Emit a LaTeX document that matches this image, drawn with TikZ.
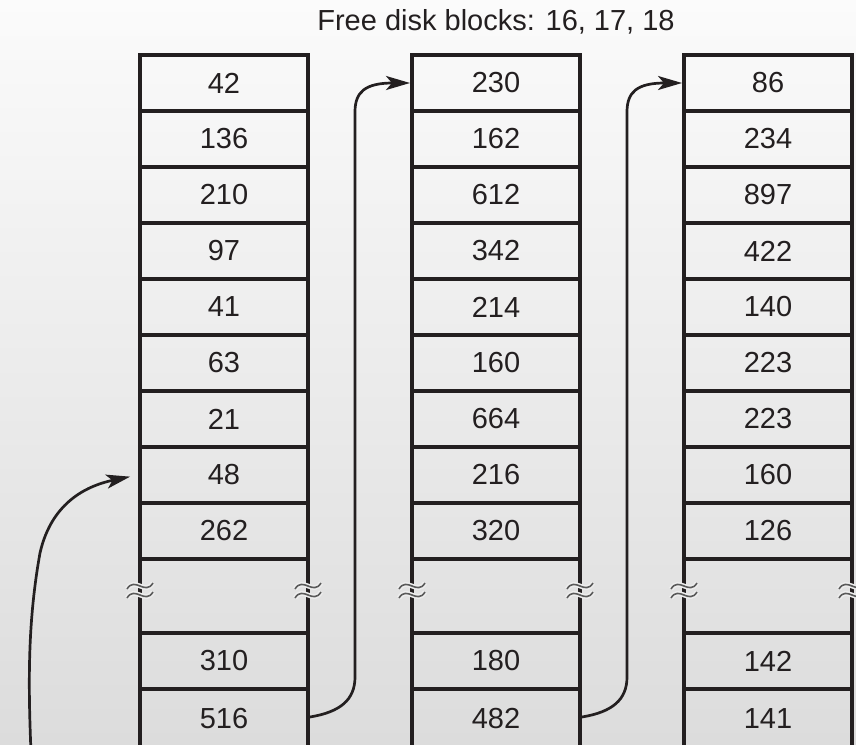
\documentclass[tikz,border=0pt]{standalone}
\usepackage{fontspec}
\setmainfont{Liberation Sans}
\usetikzlibrary{arrows.meta}
\definecolor{ink}{HTML}{231F20}
\definecolor{bgtop}{HTML}{FBFBFB}
\definecolor{bgbot}{HTML}{DCDCDC}
\tikzset{
  cell/.style={draw=ink, line width=2pt, minimum width=84pt, minimum height=28pt,
    inner sep=0pt, text=ink, font=\fontsize{14.5}{17}\selectfont},
  gapcell/.style={cell, minimum height=37pt},
  lastcell/.style={cell, minimum height=30pt},
  link/.style={draw=ink, line width=1.35pt, -{Stealth[length=12pt,width=7pt,inset=3pt]}},
  brk/.style={draw=black!65, line width=0.8pt},
  halo/.style={draw=white!93!black, line width=2.4pt}
}
\begin{document}
\begin{tikzpicture}[x=0.5pt,y=-0.5pt]
\clip (0,0) rectangle (856,744);
\shade[top color=bgtop, bottom color=bgbot] (0,0) rectangle (856,744);
\node[anchor=base, text=ink, font=\fontsize{14.5}{17}\selectfont] (title) at (496,31) {Free disk blocks: 16, 17, 18};
% columns
\foreach \c/\x/\vals in {1/224/{42,136,210,97,41,63,21,48,262},
                         2/496/{230,162,612,342,214,160,664,216,320},
                         3/768/{86,234,897,422,140,223,223,160,126}}{
  \foreach \v [count=\r] in \vals {
    \node[cell] (c\c r\r) at (\x,{27+56*\r}) {\v};
  }
  \node[gapcell] (c\c g) at (\x,596) {};
}
\node[cell] (c1r11) at (224,661) {310};
\node[lastcell] (c1r12) at (224,719) {516};
\node[cell] (c2r11) at (496,661) {180};
\node[lastcell] (c2r12) at (496,719) {482};
\node[cell] (c3r11) at (768,661) {142};
\node[lastcell] (c3r12) at (768,719) {141};
% break marks
\foreach \x in {140,308,412,580,684,852}{
  \foreach \y in {586,595}{
    \draw[halo] (\x-13,\y+3) .. controls (\x-5,\y-10) and (\x+5,\y+10) .. (\x+13,\y-3);
    \draw[brk] (\x-13,\y+3) .. controls (\x-5,\y-10) and (\x+5,\y+10) .. (\x+13,\y-3);
  }
}
% links
\draw[link] ([yshift=1pt]c1r12.east) .. controls (340,712) and (355,700) .. (355,677)
  -- (355,112) .. controls (355,92) and (365,83) .. (c2r1.west);
\draw[link] ([yshift=1pt]c2r12.east) .. controls (612,712) and (627,700) .. (627,677)
  -- (627,112) .. controls (627,92) and (637,83) .. (c3r1.west);
\coordinate (start) at (31,752);
\draw[link, shorten >=4pt] (start) .. controls (28,680) and (28,620) .. (40,553)
  .. controls (52,500) and (90,485) .. (c1r8.west);
\end{tikzpicture}
\end{document}
